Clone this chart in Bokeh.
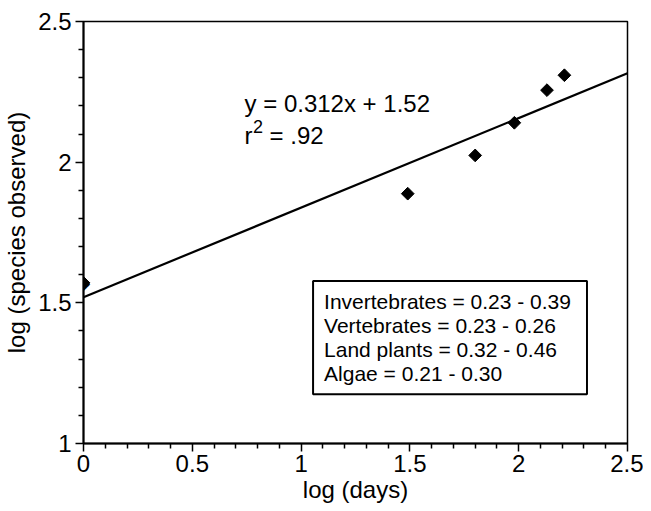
from bokeh.plotting import figure
from bokeh.models import FixedTicker, Label
from bokeh.embed import file_html
from bokeh.resources import INLINE
import math

# ---- data ----
log_days = [0.0, 1.49, 1.80, 1.98, 2.13, 2.21]
log_species = [1.571, 1.888, 2.024, 2.140, 2.256, 2.309]

fit_x = [0.0, 2.5]
fit_y = [1.52, 2.316]

equation_text = "y = 0.312x + 1.52"
r2_value_text = "= .92"

legend_lines = [
    "Invertebrates = 0.23 - 0.39",
    "Vertebrates = 0.23 - 0.26",
    "Land plants = 0.32 - 0.46",
    "Algae = 0.21 - 0.30",
]

x_ticks = [0, 0.5, 1, 1.5, 2, 2.5]
x_tick_labels = ["0", "0.5", "1", "1.5", "2", "2.5"]
y_ticks = [1, 1.5, 2, 2.5]
y_tick_labels = ["1", "1.5", "2", "2.5"]
x_minor = [i / 10 for i in range(0, 26) if i % 5]
y_minor = [1 + i / 10 for i in range(0, 16) if i % 5]

FONT = "Liberation Sans"

p = figure(frame_width=544, frame_height=422,
           x_range=(0, 2.5), y_range=(1, 2.5),
           output_backend="svg", toolbar_location=None,
           min_border_left=10, min_border_right=16, min_border_top=21, min_border_bottom=2)

p.background_fill_color = "white"
p.border_fill_color = "white"
p.outline_line_color = "black"
p.outline_line_width = 1.5
p.xgrid.visible = False
p.ygrid.visible = False

for ax, ticks, labels, minor in ((p.xaxis[0], x_ticks, x_tick_labels, x_minor),
                                 (p.yaxis[0], y_ticks, y_tick_labels, y_minor)):
    ax.ticker = FixedTicker(ticks=ticks, minor_ticks=minor)
    ax.major_label_overrides = {t: l for t, l in zip(ticks, labels)}
    ax.axis_line_color = "black"
    ax.axis_line_width = 2
    ax.major_tick_line_color = "black"
    ax.major_tick_line_width = 1.5
    ax.minor_tick_line_color = "black"
    ax.minor_tick_line_width = 1.5
    ax.major_tick_in = 0
    ax.major_tick_out = 8
    ax.minor_tick_in = 0
    ax.minor_tick_out = 5
    ax.major_label_text_font = FONT
    ax.major_label_text_font_size = "24px"
    ax.major_label_text_color = "black"
    ax.axis_label_text_font = FONT
    ax.axis_label_text_font_size = "24px"
    ax.axis_label_text_font_style = "normal"
    ax.axis_label_text_color = "black"

p.xaxis.axis_label = "log (days)"
p.yaxis.axis_label = "log (species observed)"
p.xaxis.major_label_standoff = 3
p.xaxis.axis_label_standoff = 1
p.yaxis.major_label_standoff = 4
p.yaxis.axis_label_standoff = 5

# regression line
p.line(fit_x, fit_y, line_color="black", line_width=2.2)

# data points (diamonds)
p.scatter(log_days, log_species, marker="square", size=9, angle=math.pi / 4,
          fill_color="black", line_color="black", line_width=1)
# the point at x = 0 sits on the axis; redraw it unclipped
p.add_layout(Label(x=log_days[0], y=log_species[0], text="\u25C6", text_font="DejaVu Sans",
                   text_font_size="17px", text_color="black",
                   text_align="center", text_baseline="middle"))

# equation annotation
p.add_layout(Label(x=0.74, y=2.21, text=equation_text, text_font=FONT,
                   text_font_size="24px", text_color="black", text_baseline="alphabetic"))
p.add_layout(Label(x=0.74, y=2.094, text="r", text_font=FONT,
                   text_font_size="24px", text_color="black", text_baseline="alphabetic"))
p.add_layout(Label(x=0.74, y=2.094, x_offset=8.5, y_offset=9, text="2", text_font=FONT,
                   text_font_size="18px", text_color="black", text_baseline="alphabetic"))
p.add_layout(Label(x=0.74, y=2.094, x_offset=25, text=r2_value_text, text_font=FONT,
                   text_font_size="24px", text_color="black", text_baseline="alphabetic"))

# range box
p.add_layout(Label(x=1.055, y=1.578, text="\n".join(legend_lines), text_font=FONT,
                   text_font_size="21px", text_color="black", text_line_height=1.05,
                   text_align="left", text_baseline="top",
                   border_line_color="black", border_line_width=2,
                   background_fill_color="white",
                   padding=dict(left=11, right=16, top=9, bottom=9)))

open("out.html", "w").write(file_html(p, INLINE))
